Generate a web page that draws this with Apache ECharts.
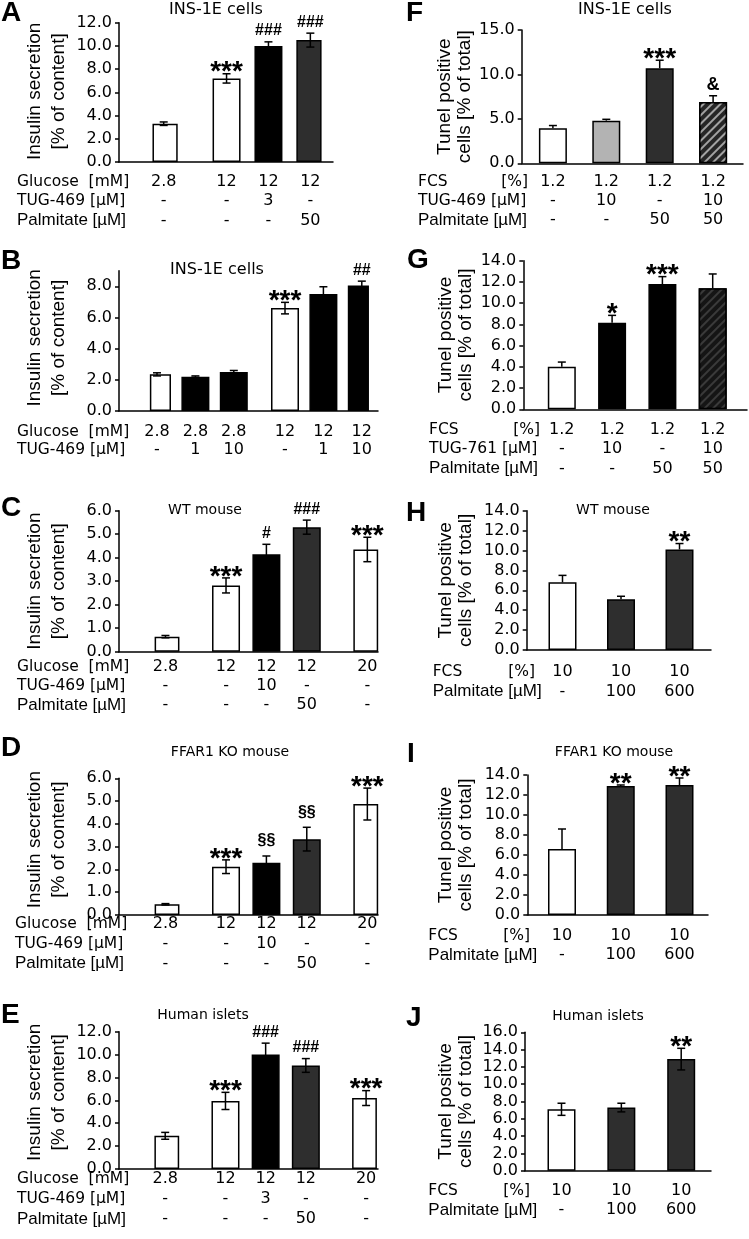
<!DOCTYPE html>
<html><head><meta charset="utf-8">
<script src="https://cdn.jsdelivr.net/npm/echarts@6/dist/echarts.min.js"></script>
<style>html,body{margin:0;padding:0;background:#fff}#c{width:749px;height:1239px}</style>
</head><body><div id="c"></div>
<script>
// ================= DATA =================
// A  INS-1E cells, insulin secretion [% of content]
const aGlucose = ['2.8', '12', '12', '12'];
const aTug469 = ['-', '-', '3', '-'];
const aPalmitate = ['-', '-', '-', '50'];
const aValues = [3.3, 7.2, 10.0, 10.5];
const aErrors = [0.15, 0.4, 0.35, 0.6];
const aMarks = ['', '***', '###', '###'];
const aTicks = [0, 2, 4, 6, 8, 10, 12];

// B  INS-1E cells
const bGlucose = ['2.8', '2.8', '2.8', '12', '12', '12'];
const bTug469 = ['-', '1', '10', '-', '1', '10'];
const bValues = [2.35, 2.2, 2.5, 6.6, 7.5, 8.05];
const bErrors = [0.1, 0.05, 0.1, 0.37, 0.47, 0.28];
const bMarks = ['', '', '', '***', '', '##'];
const bTicks = [0, 2, 4, 6, 8];

// C  WT mouse
const cGlucose = ['2.8', '12', '12', '12', '20'];
const cTug469 = ['-', '-', '10', '-', '-'];
const cPalmitate = ['-', '-', '-', '50', '-'];
const cValues = [0.64, 2.82, 4.15, 5.3, 4.35];
const cErrors = [0.05, 0.32, 0.42, 0.3, 0.52];
const cMarks = ['', '***', '#', '###', '***'];
const cTicks = [0, 1, 2, 3, 4, 5, 6];

// D  FFAR1 KO mouse
const dGlucose = ['2.8', '12', '12', '12', '20'];
const dTug469 = ['-', '-', '10', '-', '-'];
const dPalmitate = ['-', '-', '-', '50', '-'];
const dValues = [0.47, 2.12, 2.29, 3.33, 4.87];
const dErrors = [0.03, 0.3, 0.3, 0.52, 0.7];
const dMarks = ['', '***', '§§', '§§', '***'];
const dTicks = [0, 1, 2, 3, 4, 5, 6];

// E  Human islets
const eGlucose = ['2.8', '12', '12', '12', '20'];
const eTug469 = ['-', '-', '3', '-', '-'];
const ePalmitate = ['-', '-', '-', '50', '-'];
const eValues = [2.9, 5.95, 10.0, 9.05, 6.2];
const eErrors = [0.3, 0.75, 1.0, 0.6, 0.65];
const eMarks = ['', '***', '###', '###', '***'];
const eTicks = [0, 2, 4, 6, 8, 10, 12];

// F  INS-1E cells, Tunel positive cells [% of total]
const fFcs = ['1.2', '1.2', '1.2', '1.2'];
const fTug469 = ['-', '10', '-', '10'];
const fPalmitate = ['-', '-', '50', '50'];
const fValues = [3.95, 4.8, 10.7, 6.9];
const fErrors = [0.3, 0.15, 0.9, 0.7];
const fMarks = ['', '', '***', '&'];
const fTicks = [0, 5, 10, 15];

// G
const gFcs = ['1.2', '1.2', '1.2', '1.2'];
const gTug761 = ['-', '10', '-', '10'];
const gPalmitate = ['-', '-', '50', '50'];
const gValues = [4.0, 8.15, 11.8, 11.4];
const gErrors = [0.45, 0.7, 0.7, 1.35];
const gMarks = ['', '*', '***', ''];
const gTicks = [0, 2, 4, 6, 8, 10, 12, 14];

// H  WT mouse
const hFcs = ['10', '10', '10'];
const hPalmitate = ['-', '100', '600'];
const hValues = [6.8, 5.1, 10.1];
const hErrors = [0.7, 0.3, 0.6];
const hMarks = ['', '', '**'];
const hTicks = [0, 2, 4, 6, 8, 10, 12, 14];

// I  FFAR1 KO mouse
const iFcs = ['10', '10', '10'];
const iPalmitate = ['-', '100', '600'];
const iValues = [6.6, 12.9, 13.0];
const iErrors = [2.0, 0.1, 0.7];
const iMarks = ['', '**', '**'];
const iTicks = [0, 2, 4, 6, 8, 10, 12, 14];

// J  Human islets
const jFcs = ['10', '10', '10'];
const jPalmitate = ['-', '100', '600'];
const jValues = [7.1, 7.3, 12.9];
const jErrors = [0.7, 0.5, 1.25];
const jMarks = ['', '', '**'];
const jTicks = [0, 2, 4, 6, 8, 10, 12, 14, 16];

// ================= STYLE / LAYOUT =================
const WH = '#ffffff', BK = '#000000', DK = '#2e2e2e', GR = '#b3b3b3';
const HATCH_F = { color: '#262626', decal: { symbol: 'rect', symbolSize: 1, color: '#a3a3a3', dashArrayX: [1, 0], dashArrayY: [2, 4], rotation: -Math.PI / 4 } };
const HATCH_G = { color: '#151515', decal: { symbol: 'rect', symbolSize: 1, color: '#3a3a3a', dashArrayX: [1, 0], dashArrayY: [2, 4], rotation: -Math.PI / 4 } };
const DJ = '"DejaVu Sans"', LS = '"Liberation Sans"';
const leftHeads3 = [{ t: 'Glucose  [mM]' }, { t: 'TUG-469 [µM]' }, { t: 'Palmitate [µM]', f: '17px ' + LS }];
const LNAME = 'Insulin secretion\n[% of content]';
const RNAME = 'Tunel positive\ncells [% of total]';

const panels = [
  { letter: 'A', lx: 1, ly: 13, title: 'INS-1E cells', tx: 216, ty: 10, ts: 16,
    ax: 119, top: 22.7, bottom: 162, right: 333, max: 12, ticks: aTicks,
    c: 163.7, w: 20.95, slots: [0, 3, 5, 7], n: 8,
    rows: [aGlucose, aTug469, aPalmitate], heads: leftHeads3, hx: 17, rowOff: 19.7, rowGap: 19.5,
    values: aValues, errors: aErrors, marks: aMarks, fills: [WH, WH, BK, DK], err: 'both',
    name: LNAME, nameGap: 48, nlh: 24, nup: 1 },
  { letter: 'B', lx: 1, ly: 261, title: 'INS-1E cells', tx: 217, ty: 270, ts: 16,
    ax: 119, top: 270.7, bottom: 411, right: 378, max: 9, ticks: bTicks,
    c: 157, w: 12.8, slots: [0, 3, 6, 10, 13, 16], n: 17,
    rows: [bGlucose, bTug469], heads: leftHeads3.slice(0, 2), hx: 17, rowOff: 20.7, rowGap: 18.5,
    values: bValues, errors: bErrors, marks: bMarks, fills: [WH, BK, BK, WH, BK, BK], err: 'both',
    name: LNAME, nameGap: 48, nlh: 24, nup: 3 },
  { letter: 'C', lx: 1, ly: 508, title: 'WT mouse', tx: 205, ty: 510, ts: 14,
    ax: 119, top: 510.7, bottom: 651.7, right: 378, max: 6, ticks: cTicks,
    c: 165.45, w: 20.19, slots: [0, 3, 5, 7, 10], n: 11,
    rows: [cGlucose, cTug469, cPalmitate], heads: leftHeads3, hx: 17, rowOff: 15.6, rowGap: 18.8,
    values: cValues, errors: cErrors, marks: cMarks, fills: [WH, WH, BK, DK, WH], err: 'both',
    name: LNAME, nameGap: 48, nlh: 24, nup: 0 },
  { letter: 'D', lx: 1, ly: 748, title: 'FFAR1 KO mouse', tx: 230, ty: 752, ts: 14,
    ax: 119, top: 778.3, bottom: 915, right: 378, max: 6, ticks: dTicks,
    c: 165.45, w: 20.19, slots: [0, 3, 5, 7, 10], n: 11,
    rows: [dGlucose, dTug469, dPalmitate], heads: leftHeads3, hx: 15, rowOff: 8.5, rowGap: 20,
    values: dValues, errors: dErrors, marks: dMarks, fills: [WH, WH, BK, DK, WH], err: 'both',
    name: LNAME, nameGap: 48, nlh: 24, nup: 7 },
  { letter: 'E', lx: 1, ly: 1015, title: 'Human islets', tx: 203, ty: 1015, ts: 14,
    ax: 119, top: 1031.7, bottom: 1169, right: 378, max: 12, ticks: eTicks,
    c: 165.2, w: 20.09, slots: [0, 3, 5, 7, 10], n: 11,
    rows: [eGlucose, eTug469, ePalmitate], heads: leftHeads3, hx: 17, rowOff: 10, rowGap: 20,
    values: eValues, errors: eErrors, marks: eMarks, fills: [WH, WH, BK, DK, WH], err: 'both',
    name: LNAME, nameGap: 48, nlh: 24, nup: 8 },
  { letter: 'F', lx: 406, ly: 13, title: 'INS-1E cells', tx: 625, ty: 10, ts: 16,
    ax: 521.7, top: 30, bottom: 163.3, right: 743, max: 15, ticks: fTicks,
    c: 552.9, w: 53.4, slots: [0, 1, 2, 3], n: 4,
    rows: [fFcs, fTug469, fPalmitate],
    heads: [{ t: 'FCS', r: '[%]' }, { t: 'TUG-469 [µM]' }, { t: 'Palmitate [µM]', f: '17px ' + LS }],
    hx: 418, hr: 528, rowOff: 18.4, rowGap: 19.2,
    values: fValues, errors: fErrors, marks: fMarks, fills: [WH, GR, DK, HATCH_F], err: 'up',
    name: RNAME, nameGap: 46, nlh: 20, nup: 0 },
  { letter: 'G', lx: 407, ly: 260, title: '', tx: 0, ty: 0, ts: 14,
    ax: 523.3, top: 260.7, bottom: 409.3, right: 747, max: 14, ticks: gTicks,
    c: 561.8, w: 50.3, slots: [0, 1, 2, 3], n: 4,
    rows: [gFcs, gTug761, gPalmitate],
    heads: [{ t: 'FCS', r: '[%]' }, { t: 'TUG-761 [µM]' }, { t: 'Palmitate [µM]', f: '17px ' + LS }],
    hx: 429, hr: 540, rowOff: 20.7, rowGap: 19.2,
    values: gValues, errors: gErrors, marks: gMarks, fills: [WH, BK, BK, HATCH_G], err: 'up',
    name: RNAME, nameGap: 48, nlh: 20, nup: 0 },
  { letter: 'H', lx: 406, ly: 513, title: 'WT mouse', tx: 613, ty: 510, ts: 14,
    ax: 526.7, top: 510.7, bottom: 650, right: 711, max: 14, ticks: hTicks,
    c: 562.5, w: 58.5, slots: [0, 1, 2], n: 3,
    rows: [hFcs, hPalmitate],
    heads: [{ t: 'FCS', r: '[%]' }, { t: 'Palmitate [µM]', f: '17px ' + LS }],
    hx: 432.7, hr: 535, rowOff: 21.7, rowGap: 20,
    values: hValues, errors: hErrors, marks: hMarks, fills: [WH, DK, DK], err: 'up',
    name: RNAME, nameGap: 51, nlh: 20, nup: 0 },
  { letter: 'I', lx: 407, ly: 754, title: 'FFAR1 KO mouse', tx: 614, ty: 752, ts: 14,
    ax: 527.3, top: 775, bottom: 915, right: 708, max: 14, ticks: iTicks,
    c: 562, w: 58.75, slots: [0, 1, 2], n: 3,
    rows: [iFcs, iPalmitate],
    heads: [{ t: 'FCS', r: '[%]' }, { t: 'Palmitate [µM]', f: '17px ' + LS }],
    hx: 428.3, hr: 530, rowOff: 20.7, rowGap: 19.5,
    values: iValues, errors: iErrors, marks: iMarks, fills: [WH, DK, DK], err: 'up',
    name: RNAME, nameGap: 52, nlh: 20, nup: 0 },
  { letter: 'J', lx: 406, ly: 1018, title: 'Human islets', tx: 598, ty: 1016, ts: 14,
    ax: 525, top: 1032.3, bottom: 1170.7, right: 711, max: 16, ticks: jTicks,
    c: 561.5, w: 59.85, slots: [0, 1, 2], n: 3,
    rows: [jFcs, jPalmitate],
    heads: [{ t: 'FCS', r: '[%]' }, { t: 'Palmitate [µM]', f: '17px ' + LS }],
    hx: 428.3, hr: 530, rowOff: 20, rowGap: 19.5,
    values: jValues, errors: jErrors, marks: jMarks, fills: [WH, DK, DK], err: 'both',
    name: RNAME, nameGap: 49.5, nlh: 20, nup: 0 }
];

// ================= BUILD =================
function txt(x, y, text, font, align, vAlign) {
  return { type: 'text', x: x, y: y, silent: true, z: 50,
    style: { text: text, font: font, fill: '#000', textFill: '#000',
      align: align, textAlign: align, verticalAlign: vAlign, textVerticalAlign: vAlign } };
}
function markStyle(m) {
  const ch = m.charAt(0);
  if (ch === '*') return { font: 'bold 28px ' + LS, dy: -1 };
  if (ch === '&') return { font: 'bold 18px ' + LS, dy: -11 };
  if (ch === '§') return { font: 'bold 16px ' + LS, dy: -15 };
  return { font: 'bold 16px ' + LS, dy: -11 };
}

const axisLine = { color: '#000', width: 1.5 };
const option = { animation: false, backgroundColor: '#ffffff', grid: [], xAxis: [], yAxis: [], series: [], graphic: [] };

panels.forEach(function (p) {
  const g0 = option.grid.length;
  option.grid.push({ left: p.ax, top: p.top, width: p.right - p.ax, height: p.bottom - p.top });
  option.grid.push({ left: p.c - p.w / 2, top: p.top, width: p.n * p.w, height: p.bottom - p.top });

  const x0 = option.xAxis.length;
  option.xAxis.push({ gridIndex: g0, type: 'category', data: [''],
    axisLine: { show: true, lineStyle: axisLine }, axisTick: { show: false }, axisLabel: { show: false } });
  const cats = new Array(p.n).fill('');
  p.slots.forEach(function (s, i) { cats[s] = p.rows.map(function (r) { return r[i]; }).join('\n'); });
  option.xAxis.push({ gridIndex: g0 + 1, type: 'category', data: cats,
    axisLine: { show: false }, axisTick: { show: false },
    axisLabel: { interval: 0, margin: p.rowOff - p.rowGap / 2, lineHeight: p.rowGap,
      fontFamily: 'DejaVu Sans', fontSize: 16, color: '#000' } });

  const y0 = option.yAxis.length;
  option.yAxis.push({ gridIndex: g0, type: 'value', min: 0, max: p.max, interval: p.ticks[1] - p.ticks[0],
    splitLine: { show: false },
    axisLine: { show: true, lineStyle: axisLine },
    axisTick: { show: true, length: 4, lineStyle: axisLine, customValues: p.ticks },
    axisLabel: { customValues: p.ticks, formatter: function (v) { return Number(v).toFixed(1); },
      margin: 7, fontFamily: 'DejaVu Sans', fontSize: 16, color: '#000' },
    name: p.name, nameLocation: 'middle', nameRotate: 90, nameGap: p.nameGap,
    nameTextStyle: { fontFamily: 'Liberation Sans', fontSize: 19, lineHeight: p.nlh, color: '#000',
      padding: [0, 0, 0, 2 * p.nup] } });
  option.yAxis.push({ gridIndex: g0 + 1, type: 'value', min: 0, max: p.max, show: false });

  const barData = new Array(p.n).fill('-');
  p.slots.forEach(function (s, i) {
    const f = p.fills[i];
    const st = typeof f === 'string' ? { color: f } : { color: f.color, decal: f.decal };
    st.borderColor = '#000'; st.borderWidth = 1.5;
    barData[s] = { value: p.values[i], itemStyle: st };
  });
  option.series.push({ type: 'bar', xAxisIndex: x0 + 1, yAxisIndex: y0 + 1, data: barData, barWidth: 28,
    silent: true, z: 2 });

  option.series.push({ type: 'custom', xAxisIndex: x0 + 1, yAxisIndex: y0 + 1, z: 5, silent: true, clip: false,
    data: p.slots.map(function (s, i) { return [s, p.values[i], p.errors[i]]; }),
    renderItem: function (params, api) {
      const i = params.dataIndex;
      const xv = api.value(0), v = api.value(1), e = api.value(2);
      const top = api.coord([xv, v + e]);
      const mid = api.coord([xv, v]);
      const bot = api.coord([xv, Math.max(0, v - e)]);
      const ls = { stroke: '#000', lineWidth: 1.5 };
      const ch = [];
      const yEnd = p.err === 'both' ? bot[1] : mid[1];
      ch.push({ type: 'line', shape: { x1: top[0], y1: top[1], x2: top[0], y2: yEnd }, style: ls });
      ch.push({ type: 'line', shape: { x1: top[0] - 4, y1: top[1], x2: top[0] + 4, y2: top[1] }, style: ls });
      if (p.err === 'both') ch.push({ type: 'line', shape: { x1: bot[0] - 4, y1: bot[1], x2: bot[0] + 4, y2: bot[1] }, style: ls });
      const m = p.marks[i];
      if (m) {
        const ms = markStyle(m);
        ch.push(txt(top[0], top[1] + ms.dy, m, ms.font, 'center', 'middle'));
      }
      return { type: 'group', children: ch };
    } });

  // panel letter, title, table row headers
  option.graphic.push(txt(p.lx, p.ly, p.letter, 'bold 28px ' + LS, 'left', 'middle'));
  if (p.title) option.graphic.push(txt(p.tx, p.ty, p.title, p.ts + 'px ' + DJ, 'center', 'middle'));
  p.heads.forEach(function (h, k) {
    const yy = p.bottom + p.rowOff + k * p.rowGap;
    option.graphic.push(txt(p.hx, yy, h.t, h.f || ('15.5px ' + DJ), 'left', 'middle'));
    if (h.r) option.graphic.push(txt(p.hr, yy, h.r, '15.5px ' + DJ, 'right', 'middle'));
  });
});

const chart = echarts.init(document.getElementById('c'), null, { renderer: 'canvas' });
chart.setOption(option);
</script>
</body></html>
